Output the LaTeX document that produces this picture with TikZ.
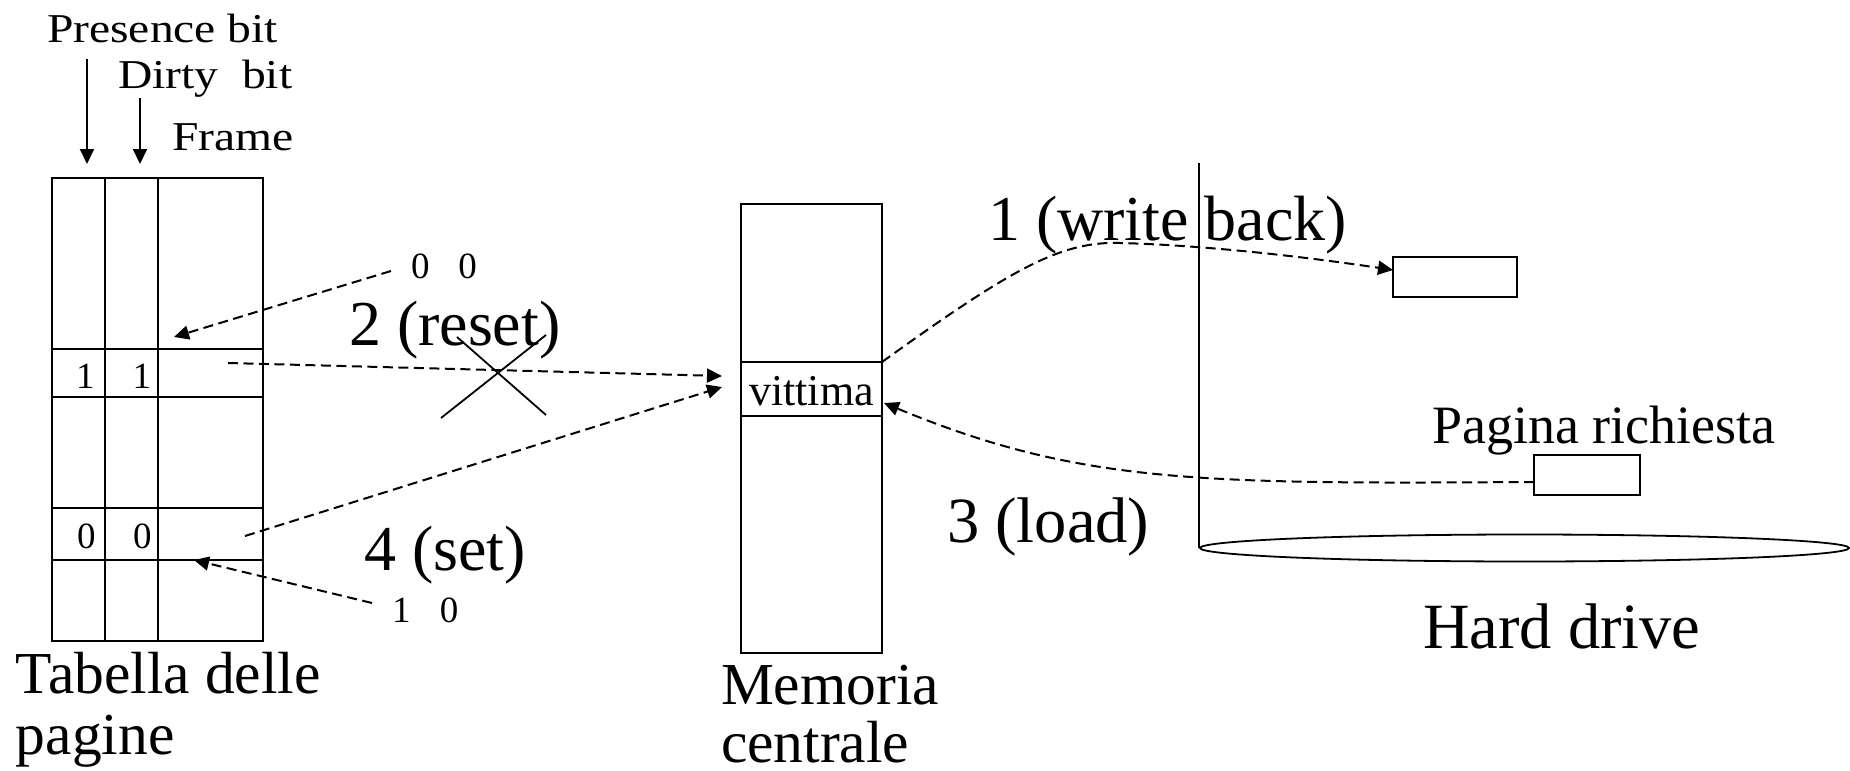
\documentclass[tikz,border=0pt]{standalone}
\usepackage{fontspec}
\setmainfont{Liberation Serif}
\usepackage{graphicx}
\usetikzlibrary{arrows.meta}
\newcommand\szf[1]{\fontsize{#1}{61}\selectfont}
\begin{document}
\begin{tikzpicture}[x=1pt,y=-1pt,
  lbl/.style={inner sep=0pt, outer sep=0pt, anchor=base west},
  toplbl/.style={lbl, font=\szf{41}},
  biglbl/.style={lbl, font=\szf{64}},
  namelbl/.style={lbl, font=\szf{59.5}},
  digitlbl/.style={lbl, font=\szf{37}},
  solidline/.style={line width=2pt},
  thinline/.style={line width=1.8pt},
  dashline/.style={line width=2pt, dash pattern=on 10pt off 5.5pt},
  arrowtip/.style={-{Triangle[length=15pt,width=14pt]}},
  boxnode/.style={draw, line width=1.9pt, inner sep=0pt, outer sep=0pt}]
\fill[white] (0,0) rectangle (1850,771);
\useasboundingbox (0,0) rectangle (1850,771);
% ---- labels above the page table
\node[toplbl] (presence) at (47,42) {\scalebox{1.16}[1]{Presence bit}};
\node[toplbl] (dirty) at (118,88) {\scalebox{1.16}[1]{Dirty\ \ bit}};
\node[toplbl] (frame) at (172,150) {\scalebox{1.16}[1]{Frame}};
\coordinate (pa) at (87,59);  \coordinate (pb) at (87,164);
\coordinate (da) at (140,98); \coordinate (db) at (140,164);
\draw[solidline, arrowtip] (pa) -- (pb);
\draw[solidline, arrowtip] (da) -- (db);
% ---- page table
\draw[solidline] (52,178) rectangle (263,641);
\draw[solidline] (105,178) -- (105,641);
\draw[solidline] (158,178) -- (158,641);
\draw[solidline] (52,349) -- (263,349);
\draw[solidline] (52,397) -- (263,397);
\draw[solidline] (52,508) -- (263,508);
\draw[solidline] (52,560) -- (263,560);
\node[digitlbl] (ta) at (76,388) {1};
\node[digitlbl] (tb) at (132.5,388) {1};
\node[digitlbl] (tc) at (77,548) {0};
\node[digitlbl] (td) at (133,548) {0};
\node[namelbl] (tabella) at (16,693) {\vtop{\hbox{Tabella delle}\hbox{pagine}}};
% ---- bit labels and steps 2 and 4
\node[digitlbl] (lab00) at (411,278) {0\hspace{29pt}0};
\node[digitlbl] (lab10) at (392,622) {1\hspace{29.5pt}0};
\node[biglbl] (reset) at (349,345) {2 (reset)};
\node[biglbl] (set) at (364,570) {4 (set)};
\draw[thinline] (441,418) -- (546,335);
\draw[thinline] (457,337) -- (546,415);
% ---- main memory
\node[boxnode, minimum width=141pt, minimum height=449pt] (mem) at (811.5,428.5) {};
\node[boxnode, minimum width=141pt, minimum height=54pt, font=\szf{44},
      text height=32pt, text depth=0pt] (vittima) at (811.5,389) {vittima};
\node[namelbl] (memoria) at (721,704) {\vtop{\baselineskip=58pt\hbox{Memoria}\hbox{centrale}}};
% ---- hard drive
\draw[thinline] (1199,163) -- (1199,548);
\draw[thinline] (1524.5,548) ellipse [x radius=324.5pt, y radius=13.5pt];
\node[boxnode, minimum width=124pt, minimum height=40pt] (box1) at (1455,277) {};
\node[boxnode, minimum width=106pt, minimum height=40pt] (box2) at (1587,475) {};
\node[lbl, font=\szf{54}] (pagina) at (1432,443) {Pagina richiesta};
\node[lbl, font=\szf{64.5}] (hd) at (1423,648) {Hard drive};
\node[biglbl] (wb) at (988,240) {1 (write back)};
\node[lbl, font=\szf{64.5}] (load) at (947,542) {3 (load)};
% ---- dashed connectors
\coordinate (r00s) at (391,271);  \coordinate (r00e) at (174,337);
\coordinate (row11) at (228,363); \coordinate (vin1) at (722,376);
\coordinate (row00) at (245,536); \coordinate (vin2) at (722,387);
\coordinate (r10s) at (372,603);  \coordinate (r10e) at (194,560);
\coordinate (wbend) at (1393,270);
\coordinate (ldstart) at (1534,482); \coordinate (ldend) at (884,403);
\draw[dashline, arrowtip] (r00s) -- (r00e);
\draw[dashline, arrowtip] (row11) -- (vin1);
\draw[dashline, arrowtip] (row00) -- (vin2);
\draw[dashline, arrowtip] (r10s) -- (r10e);
\draw[dashline, arrowtip] (vittima.north east) .. controls (1010,270) and (1060,241) .. (1120,243)
      .. controls (1200,245) and (1300,256) .. (wbend);
\draw[dashline, arrowtip] (ldstart) .. controls (1200,484) and (1080,484) .. (ldend);
\end{tikzpicture}
\end{document}
